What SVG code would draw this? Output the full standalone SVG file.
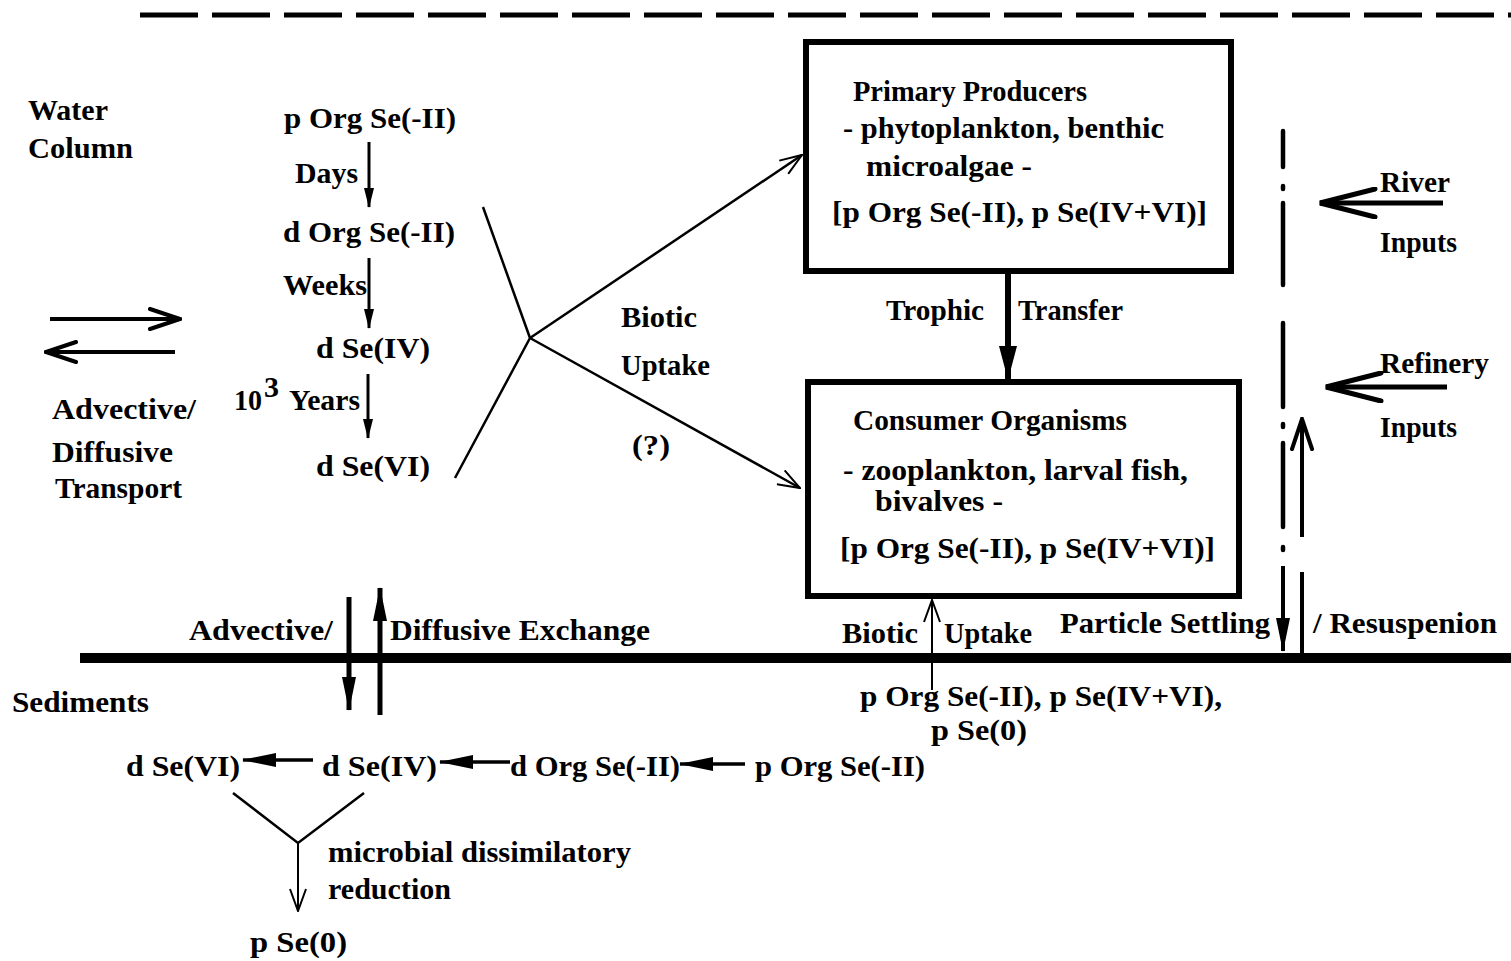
<svg xmlns="http://www.w3.org/2000/svg" width="1511" height="961" viewBox="0 0 1511 961">
<style>
text{font-family:"Liberation Serif","Times New Roman",serif;font-weight:bold;font-size:30px;fill:#000}
.ln{stroke:#000;fill:none}
.box{fill:none;stroke:#000;stroke-width:6}
</style>
<defs>
<marker id="fa" viewBox="0 0 20 10" refX="19" refY="5" markerWidth="20" markerHeight="10" orient="auto" markerUnits="userSpaceOnUse"><path d="M0,0 L20,5 L0,10 z" fill="#000"/></marker>
<marker id="fb" viewBox="0 0 34 14" refX="33" refY="7" markerWidth="34" markerHeight="14" orient="auto" markerUnits="userSpaceOnUse"><path d="M0,0 L34,7 L0,14 z" fill="#000"/></marker>
<marker id="fc" viewBox="0 0 34 18" refX="33" refY="9" markerWidth="34" markerHeight="18" orient="auto" markerUnits="userSpaceOnUse"><path d="M0,0 L34,9 L0,18 z" fill="#000"/></marker>
<marker id="ov" viewBox="0 0 34 24" refX="32" refY="12" markerWidth="34" markerHeight="24" orient="auto" markerUnits="userSpaceOnUse"><path d="M2,2 L32,12 L2,22" fill="none" stroke="#000" stroke-width="4" stroke-linecap="round"/></marker>
<marker id="ot" viewBox="0 0 24 18" refX="23" refY="9" markerWidth="24" markerHeight="18" orient="auto" markerUnits="userSpaceOnUse"><path d="M1,1 L23,9 L1,17" fill="none" stroke="#000" stroke-width="2"/></marker>
<marker id="ol" viewBox="0 0 60 32" refX="58" refY="16" markerWidth="60" markerHeight="32" orient="auto" markerUnits="userSpaceOnUse"><path d="M3,2 L58,16 L3,30" fill="none" stroke="#000" stroke-width="5" stroke-linecap="round"/></marker>
</defs>

<g id="boundaries">
<line class="ln" x1="140" y1="15" x2="1511" y2="15" stroke-width="5" stroke-dasharray="58 14"/>
<line class="ln" x1="80" y1="658" x2="1511" y2="658" stroke-width="10"/>
</g>

<g id="labels">
<text x="28" y="120" textLength="80" lengthAdjust="spacingAndGlyphs">Water</text>
<text x="28" y="158" textLength="105" lengthAdjust="spacingAndGlyphs">Column</text>
<text x="52" y="419" textLength="144" lengthAdjust="spacingAndGlyphs">Advective/</text>
<text x="52" y="462" textLength="121" lengthAdjust="spacingAndGlyphs">Diffusive</text>
<text x="55" y="498" textLength="127" lengthAdjust="spacingAndGlyphs">Transport</text>
<text x="12" y="712" textLength="137" lengthAdjust="spacingAndGlyphs">Sediments</text>
</g>

<g id="water-species">
<text x="284" y="128" textLength="172" lengthAdjust="spacingAndGlyphs">p Org Se(-II)</text>
<text x="295" y="183" textLength="63" lengthAdjust="spacingAndGlyphs">Days</text>
<text x="283" y="242" textLength="172" lengthAdjust="spacingAndGlyphs">d Org Se(-II)</text>
<text x="283" y="295" textLength="84" lengthAdjust="spacingAndGlyphs">Weeks</text>
<text x="316" y="358" textLength="114" lengthAdjust="spacingAndGlyphs">d Se(IV)</text>
<text x="234" y="410" textLength="28" lengthAdjust="spacingAndGlyphs">10</text>
<text x="264" y="397" font-size="21">3</text>
<text x="289" y="410" textLength="71" lengthAdjust="spacingAndGlyphs">Years</text>
<text x="316" y="476" textLength="114" lengthAdjust="spacingAndGlyphs">d Se(VI)</text>
</g>

<g id="biotic-uptake-label">
<text x="621" y="327" textLength="76" lengthAdjust="spacingAndGlyphs">Biotic</text>
<text x="621" y="375" textLength="89" lengthAdjust="spacingAndGlyphs">Uptake</text>
<text x="632" y="455" textLength="38" lengthAdjust="spacingAndGlyphs">(?)</text>
</g>

<g id="primary-producers">
<rect class="box" x="806" y="42" width="425" height="229"/>
<text x="853" y="101" textLength="234" lengthAdjust="spacingAndGlyphs">Primary Producers</text>
<text x="843" y="138" textLength="321" lengthAdjust="spacingAndGlyphs">- phytoplankton, benthic</text>
<text x="866" y="176" textLength="166" lengthAdjust="spacingAndGlyphs">microalgae -</text>
<text x="832" y="222" textLength="375" lengthAdjust="spacingAndGlyphs">[p Org Se(-II), p Se(IV+VI)]</text>
</g>

<g id="trophic-label">
<text x="886" y="320" textLength="98" lengthAdjust="spacingAndGlyphs">Trophic</text>
<text x="1018" y="320" textLength="105" lengthAdjust="spacingAndGlyphs">Transfer</text>
</g>

<g id="consumer-organisms">
<rect class="box" x="808" y="382" width="431" height="214"/>
<text x="853" y="430" textLength="274" lengthAdjust="spacingAndGlyphs">Consumer Organisms</text>
<text x="843" y="480" textLength="345" lengthAdjust="spacingAndGlyphs">- zooplankton, larval fish,</text>
<text x="875" y="511" textLength="128" lengthAdjust="spacingAndGlyphs">bivalves -</text>
<text x="840" y="558" textLength="375" lengthAdjust="spacingAndGlyphs">[p Org Se(-II), p Se(IV+VI)]</text>
</g>

<g id="inputs">
<text x="1380" y="192" textLength="70" lengthAdjust="spacingAndGlyphs">River</text>
<text x="1380" y="252" textLength="77" lengthAdjust="spacingAndGlyphs">Inputs</text>
<text x="1380" y="373" textLength="109" lengthAdjust="spacingAndGlyphs">Refinery</text>
<text x="1380" y="437" textLength="77" lengthAdjust="spacingAndGlyphs">Inputs</text>
</g>

<g id="exchange-labels">
<text x="189" y="640" textLength="144" lengthAdjust="spacingAndGlyphs">Advective/</text>
<text x="390" y="640" textLength="260" lengthAdjust="spacingAndGlyphs">Diffusive Exchange</text>
<text x="842" y="643" textLength="76" lengthAdjust="spacingAndGlyphs">Biotic</text>
<text x="944" y="643" textLength="88" lengthAdjust="spacingAndGlyphs">Uptake</text>
<text x="1060" y="633" textLength="210" lengthAdjust="spacingAndGlyphs">Particle Settling</text>
<text x="1313" y="633" textLength="184" lengthAdjust="spacingAndGlyphs">/ Resuspenion</text>
</g>

<g id="sediment-particulates">
<text x="860" y="706" textLength="362" lengthAdjust="spacingAndGlyphs">p Org Se(-II), p Se(IV+VI),</text>
<text x="931" y="740" textLength="96" lengthAdjust="spacingAndGlyphs">p Se(0)</text>
</g>

<g id="sediment-species">
<text x="126" y="776" textLength="114" lengthAdjust="spacingAndGlyphs">d Se(VI)</text>
<text x="322" y="776" textLength="115" lengthAdjust="spacingAndGlyphs">d Se(IV)</text>
<text x="510" y="776" textLength="170" lengthAdjust="spacingAndGlyphs">d Org Se(-II)</text>
<text x="755" y="776" textLength="170" lengthAdjust="spacingAndGlyphs">p Org Se(-II)</text>
<text x="328" y="862" textLength="303" lengthAdjust="spacingAndGlyphs">microbial dissimilatory</text>
<text x="328" y="899" textLength="123" lengthAdjust="spacingAndGlyphs">reduction</text>
<text x="250" y="952" textLength="97" lengthAdjust="spacingAndGlyphs">p Se(0)</text>
</g>

<g id="connectors">
<line class="ln" x1="369" y1="142" x2="369" y2="207" stroke-width="3" marker-end="url(#fa)"/>
<line class="ln" x1="369" y1="258" x2="369" y2="328" stroke-width="3" marker-end="url(#fa)"/>
<line class="ln" x1="368" y1="374" x2="368" y2="438" stroke-width="3" marker-end="url(#fa)"/>
<line class="ln" x1="50" y1="319" x2="180" y2="319" stroke-width="4" marker-end="url(#ov)"/>
<line class="ln" x1="175" y1="352" x2="46" y2="352" stroke-width="4" marker-end="url(#ov)"/>
<polyline class="ln" points="483,207 530,338 455,478" stroke-width="2.5"/>
<line class="ln" x1="530" y1="338" x2="802" y2="155" stroke-width="2.5" marker-end="url(#ot)"/>
<line class="ln" x1="530" y1="338" x2="800" y2="488" stroke-width="2.5" marker-end="url(#ot)"/>
<line class="ln" x1="1008" y1="272" x2="1008" y2="379" stroke-width="6" marker-end="url(#fc)"/>
<line class="ln" x1="1443" y1="203" x2="1320" y2="203" stroke-width="5" marker-end="url(#ol)"/>
<line class="ln" x1="1447" y1="387" x2="1326" y2="387" stroke-width="5" marker-end="url(#ol)"/>
<g stroke="#000" stroke-width="4.5" stroke-linecap="round">
<line x1="1283" y1="131" x2="1283" y2="167"/>
<line x1="1283" y1="186" x2="1283" y2="189"/>
<line x1="1283" y1="203" x2="1283" y2="285"/>
<line x1="1283" y1="323" x2="1283" y2="407"/>
<line x1="1283" y1="424" x2="1283" y2="427"/>
<line x1="1283" y1="443" x2="1283" y2="527"/>
<line x1="1283" y1="547" x2="1283" y2="550"/>
</g>
<line class="ln" x1="1283" y1="566" x2="1283" y2="651" stroke-width="4" marker-end="url(#fb)"/>
<line class="ln" x1="1302" y1="658" x2="1302" y2="572" stroke-width="4"/>
<line class="ln" x1="1302" y1="537" x2="1302" y2="419" stroke-width="4" marker-end="url(#ov)"/>
<line class="ln" x1="349" y1="597" x2="349" y2="710" stroke-width="5" marker-end="url(#fb)"/>
<line class="ln" x1="380" y1="715" x2="380" y2="588" stroke-width="5" marker-end="url(#fb)"/>
<line class="ln" x1="932" y1="690" x2="932" y2="600" stroke-width="2" marker-end="url(#ot)"/>
<line class="ln" x1="313" y1="760" x2="243" y2="760" stroke-width="3.5" marker-end="url(#fb)"/>
<line class="ln" x1="510" y1="762" x2="440" y2="762" stroke-width="3.5" marker-end="url(#fb)"/>
<line class="ln" x1="745" y1="764" x2="680" y2="764" stroke-width="3.5" marker-end="url(#fb)"/>
<polyline class="ln" points="233,793 298,843 364,793" stroke-width="2.5"/>
<line class="ln" x1="298" y1="843" x2="298" y2="911" stroke-width="2" marker-end="url(#ot)"/>
</g>
</svg>
